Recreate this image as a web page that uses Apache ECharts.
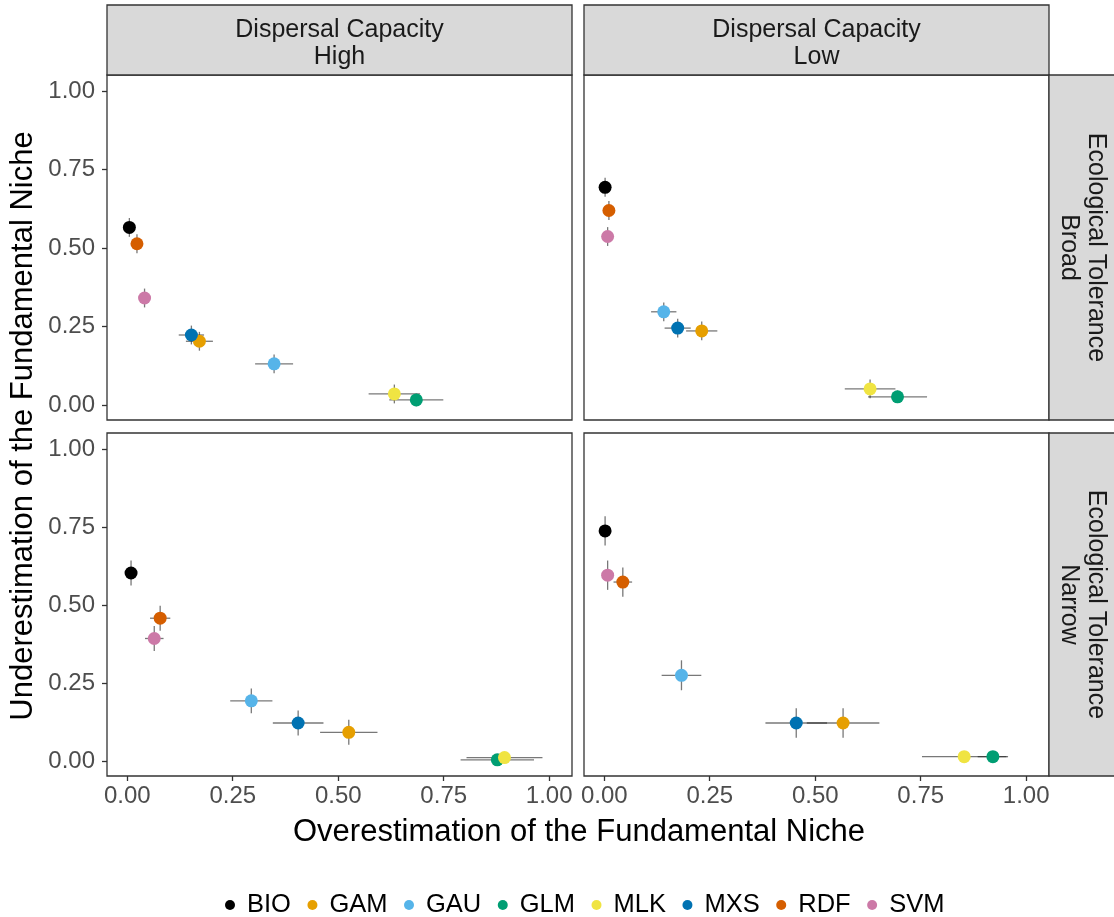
<!DOCTYPE html>
<html>
<head>
<meta charset="utf-8">
<script src="https://cdn.jsdelivr.net/npm/echarts@6/dist/echarts.min.js"></script>
<style>
  html, body { margin: 0; padding: 0; background: #fff; }
  #chart { width: 1114px; height: 917px; }
</style>
</head>
<body>
<div id="chart"></div>
<script>
// ---- Data ----
const methods = ['BIO', 'GAM', 'GAU', 'GLM', 'MLK', 'MXS', 'RDF', 'SVM'];
const methodColors = ['#000000', '#E69F00', '#56B4E9', '#009E73', '#F0E442', '#0072B2', '#D55E00', '#CC79A7'];

const colLabels = ['Dispersal Capacity\nHigh', 'Dispersal Capacity\nLow'];
const rowLabels = ['Ecological Tolerance\nBroad', 'Ecological Tolerance\nNarrow'];

const xTicks = [0, 0.25, 0.5, 0.75, 1];
const yTicks = [0, 0.25, 0.5, 0.75, 1];

// High dispersal, broad tolerance
const highBroadX  = [0.005, 0.171, 0.348, 0.685, 0.633, 0.152, 0.023, 0.041];
const highBroadY  = [0.566, 0.203, 0.131, 0.016, 0.035, 0.223, 0.514, 0.341];
const highBroadXe = [0.005, 0.032, 0.045, 0.064, 0.061, 0.030, 0.008, 0.008];
const highBroadYe = [0.030, 0.030, 0.030, 0.020, 0.030, 0.030, 0.030, 0.030];

// Low dispersal, broad tolerance
const lowBroadX  = [0.002, 0.231, 0.141, 0.695, 0.630, 0.174, 0.011, 0.008];
const lowBroadY  = [0.694, 0.236, 0.297, 0.026, 0.051, 0.245, 0.620, 0.537];
const lowBroadXe = [0.005, 0.037, 0.030, 0.070, 0.060, 0.031, 0.008, 0.006];
const lowBroadYe = [0.030, 0.030, 0.030, 0.020, 0.030, 0.030, 0.030, 0.030];

// High dispersal, narrow tolerance
const highNarrowX  = [0.009, 0.525, 0.294, 0.877, 0.894, 0.405, 0.078, 0.064];
const highNarrowY  = [0.603, 0.092, 0.193, 0.004, 0.011, 0.122, 0.458, 0.393];
const highNarrowXe = [0.008, 0.068, 0.050, 0.087, 0.090, 0.060, 0.024, 0.022];
const highNarrowYe = [0.040, 0.040, 0.040, 0.010, 0.010, 0.040, 0.040, 0.040];

// Low dispersal, narrow tolerance
const lowNarrowX  = [0.002, 0.566, 0.183, 0.921, 0.853, 0.455, 0.044, 0.008];
const lowNarrowY  = [0.738, 0.122, 0.275, 0.014, 0.014, 0.122, 0.574, 0.596];
const lowNarrowXe = [0.005, 0.086, 0.047, 0.036, 0.100, 0.073, 0.022, 0.006];
const lowNarrowYe = [0.047, 0.047, 0.048, 0.010, 0.010, 0.047, 0.047, 0.047];

// ---- Build ----
const panels = [
  { x: highBroadX,  y: highBroadY,  xe: highBroadXe,  ye: highBroadYe },
  { x: lowBroadX,   y: lowBroadY,   xe: lowBroadXe,   ye: lowBroadYe },
  { x: highNarrowX, y: highNarrowY, xe: highNarrowXe, ye: highNarrowYe },
  { x: lowNarrowX,  y: lowNarrowY,  xe: lowNarrowXe,  ye: lowNarrowYe }
];

const FONT = '"Liberation Sans", Arial, sans-serif';
const BORDER = '#333333';
const panelLeft = [107, 584];
const panelTop = [75, 433];
const panelW = 465;
const panelH = [345, 343];

const grids = [], xAxes = [], yAxes = [], series = [];
for (let i = 0; i < 4; i++) {
  const c = i % 2, r = Math.floor(i / 2);
  grids.push({
    left: panelLeft[c], top: panelTop[r], width: panelW, height: panelH[r],
    show: true, borderColor: BORDER, borderWidth: 1.3, backgroundColor: '#fff'
  });
  xAxes.push({
    type: 'value', gridIndex: i, min: -0.048, max: 1.054, show: r === 1, position: 'bottom',
    axisLine: { show: false, onZero: false }, splitLine: { show: false },
    axisTick: { show: true, length: 5, inside: false, customValues: xTicks, lineStyle: { color: BORDER, width: 1.3 } },
    axisLabel: { customValues: xTicks, formatter: v => v.toFixed(2), fontSize: 24, color: '#4d4d4d', margin: 8, fontFamily: FONT }
  });
  yAxes.push({
    type: 'value', gridIndex: i, min: -0.048, max: 1.052, show: c === 0, position: 'left',
    axisLine: { show: false, onZero: false }, splitLine: { show: false },
    axisTick: { show: true, length: 5, inside: false, customValues: yTicks, lineStyle: { color: BORDER, width: 1.3 } },
    axisLabel: { customValues: yTicks, formatter: v => v.toFixed(2), fontSize: 24, color: '#4d4d4d', margin: 12, fontFamily: FONT }
  });

  const p = panels[i];
  const errData = methods.map((m, k) => [p.x[k], p.y[k], p.xe[k], p.ye[k]]);
  series.push({
    type: 'custom', name: 'err' + i, xAxisIndex: i, yAxisIndex: i, z: 2,
    encode: { x: 0, y: 1 },
    data: errData,
    renderItem: function (params, api) {
      const x = api.value(0), y = api.value(1), xe = api.value(2), ye = api.value(3);
      const a = api.coord([x - xe, y]), b = api.coord([x + xe, y]);
      const cc = api.coord([x, y - ye]), d = api.coord([x, y + ye]);
      const st = { stroke: 'rgba(30,30,30,0.6)', lineWidth: 1.3 };
      return {
        type: 'group',
        children: [
          { type: 'line', shape: { x1: a[0], y1: a[1], x2: b[0], y2: b[1] }, style: st },
          { type: 'line', shape: { x1: cc[0], y1: cc[1], x2: d[0], y2: d[1] }, style: st }
        ]
      };
    }
  });
  methods.forEach((m, k) => {
    series.push({
      type: 'scatter', name: m, xAxisIndex: i, yAxisIndex: i, z: 3,
      symbol: 'circle', symbolSize: 13,
      itemStyle: { color: methodColors[k], opacity: 1 },
      data: [[p.x[k], p.y[k]]]
    });
  });
}

const graphics = [];
// top strips
for (let c = 0; c < 2; c++) {
  graphics.push({
    type: 'rect', shape: { x: panelLeft[c], y: 5, width: panelW, height: 70 },
    style: { fill: '#d9d9d9', stroke: BORDER, lineWidth: 1.3 }
  });
  graphics.push({
    type: 'text', x: panelLeft[c] + panelW / 2, y: 43.5,
    style: { text: colLabels[c], font: '25px ' + FONT, fill: '#1a1a1a', align: 'center', verticalAlign: 'middle', lineHeight: 27 }
  });
}
// right strips
for (let r = 0; r < 2; r++) {
  graphics.push({
    type: 'rect', shape: { x: 1049, y: panelTop[r], width: 80, height: panelH[r] },
    style: { fill: '#d9d9d9', stroke: BORDER, lineWidth: 1.3 }
  });
  graphics.push({
    type: 'text', x: 1082, y: panelTop[r] + panelH[r] / 2, rotation: -Math.PI / 2,
    style: { text: rowLabels[r], font: '25px ' + FONT, fill: '#1a1a1a', align: 'center', verticalAlign: 'middle', lineHeight: 27 }
  });
}
// axis titles
graphics.push({
  type: 'text', x: 23, y: 426, rotation: Math.PI / 2,
  style: { text: 'Underestimation of the Fundamental Niche', font: '31px ' + FONT, fill: '#000', align: 'center', verticalAlign: 'middle' }
});
graphics.push({
  type: 'text', x: 579, y: 832,
  style: { text: 'Overestimation of the Fundamental Niche', font: '31px ' + FONT, fill: '#000', align: 'center', verticalAlign: 'middle' }
});

const chart = echarts.init(document.getElementById('chart'), null, { renderer: 'canvas' });
chart.setOption({
  animation: false,
  backgroundColor: '#ffffff',
  textStyle: { fontFamily: FONT },
  grid: grids,
  xAxis: xAxes,
  yAxis: yAxes,
  legend: {
    data: methods, left: 225, top: 892, padding: 0,
    icon: 'circle', itemWidth: 24, itemHeight: 10, itemGap: 16.5,
    textStyle: { fontSize: 25.5, color: '#000', fontFamily: FONT }
  },
  graphic: graphics,
  series: series
});
</script>
</body>
</html>
